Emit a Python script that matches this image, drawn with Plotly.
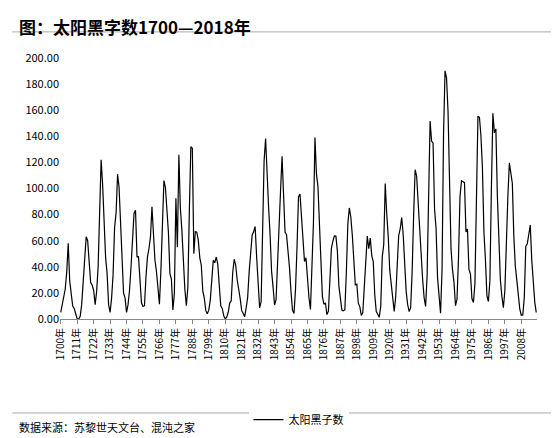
import plotly.graph_objects as go

years = list(range(1700, 2019))
sunspots = [
    5, 11, 16, 23, 36, 58, 29, 20, 10, 8,
    3, 0, 0, 2, 11, 27, 47, 63, 60, 39,
    28, 26, 22, 11, 21, 40, 78, 122, 103, 73,
    47, 35, 11, 5, 16, 34, 70, 81, 111, 101,
    73, 40, 20, 16, 5, 11, 22, 40, 60, 80.9,
    83.4, 47.7, 47.8, 30.7, 12.2, 9.6, 10.2, 32.4, 47.6, 54.0,
    62.9, 85.9, 61.2, 45.1, 36.4, 20.9, 11.4, 37.8, 69.8, 106.1,
    100.8, 81.6, 66.5, 34.8, 30.6, 7.0, 19.8, 92.5, 55.0, 125.9,
    84.8, 68.1, 38.5, 22.8, 10.2, 24.1, 82.9, 132.0, 130.9, 50.0,
    67.0, 66.6, 60.0, 46.9, 41.0, 21.3, 16.0, 6.4, 4.1, 6.8,
    14.5, 34.0, 45.0, 43.1, 47.5, 42.2, 28.1, 10.1, 8.1, 2.5,
    0.0, 1.4, 5.0, 12.2, 13.9, 35.4, 45.8, 41.1, 30.1, 23.9,
    15.6, 6.6, 4.0, 1.8, 8.5, 16.6, 36.3, 49.6, 64.2, 67.0,
    70.9, 47.8, 27.5, 8.5, 13.2, 56.9, 121.5, 138.3, 103.2, 85.7,
    64.6, 36.7, 24.2, 10.7, 15.0, 40.1, 61.5, 98.5, 124.7, 96.3,
    66.6, 64.5, 54.1, 39.0, 20.6, 6.7, 4.3, 22.7, 54.8, 93.8,
    95.8, 77.2, 59.1, 44.0, 47.0, 30.5, 16.3, 7.3, 37.6, 74.0,
    139.0, 111.2, 101.6, 66.2, 44.7, 17.0, 11.3, 12.4, 3.4, 6.0,
    32.3, 54.3, 59.7, 63.7, 63.5, 52.2, 25.4, 13.1, 6.8, 6.3,
    7.1, 35.6, 73.0, 85.1, 78.0, 64.0, 41.8, 26.2, 26.7, 12.1,
    9.5, 2.7, 5.0, 24.4, 42.0, 63.5, 53.8, 62.0, 48.5, 43.9,
    18.6, 5.7, 3.6, 1.4, 9.6, 47.4, 57.1, 103.9, 80.6, 63.6,
    37.6, 26.1, 14.2, 5.8, 16.7, 44.3, 63.9, 69.0, 77.8, 64.9,
    35.7, 21.2, 11.1, 5.7, 8.7, 36.1, 79.7, 114.4, 109.6, 88.8,
    67.8, 47.5, 30.6, 16.3, 9.6, 33.2, 92.6, 151.6, 136.3, 134.7,
    83.9, 69.4, 31.5, 13.9, 4.4, 38.0, 141.7, 190.2, 184.8, 159.0,
    112.3, 53.9, 37.6, 27.9, 10.2, 15.1, 47.0, 93.8, 105.9, 105.5,
    104.5, 66.6, 68.9, 38.0, 34.5, 15.5, 12.6, 27.5, 92.5, 155.4,
    154.6, 140.4, 115.9, 66.6, 45.9, 17.9, 13.4, 29.4, 100.2, 157.6,
    142.6, 145.7, 94.3, 54.6, 29.9, 17.5, 8.6, 21.5, 64.3, 93.3,
    119.6, 111.0, 104.0, 63.7, 40.4, 29.8, 15.2, 7.5, 2.9, 3.1,
    16.5, 55.7, 57.6, 64.7, 72.0, 45.0, 24.0, 13.0, 5.0,
]
tick_years = list(range(1700, 2019, 11))

FONT = "Noto Sans CJK SC"

fig = go.Figure(go.Scatter(
    x=years, y=sunspots, mode="lines", name="太阳黑子数",
    line=dict(color="black", width=1.2),
))

fig.update_layout(
    width=559, height=438,
    margin=dict(l=52, r=30, t=50, b=110),
    paper_bgcolor="white", plot_bgcolor="white",
    font=dict(family=FONT, size=11, color="black"),
    showlegend=True,
    legend=dict(orientation="h", x=0.5, xanchor="center", y=-0.33, yanchor="top",
                font=dict(size=11)),
)
fig.update_xaxes(
    range=[1699.5, 2018.5], tickvals=tick_years,
    ticktext=[f"{y}年" for y in tick_years], tickangle=-90,
    showline=True, linecolor="#888", showgrid=False, ticks="outside",
    ticklen=4, tickcolor="#888", tickfont=dict(size=10),
)
fig.update_yaxes(
    range=[0, 200], dtick=20, tickformat=".2f", showgrid=False,
    showline=False, zeroline=False, tickfont=dict(size=11),
)

fig.add_annotation(text="<b>图：太阳黑字数1700—2018年</b>", xref="paper", yref="paper",
                   x=-0.09, y=1.0, yshift=32, xanchor="left", yanchor="middle",
                   showarrow=False, font=dict(size=17, family=FONT))
fig.add_shape(type="line", xref="paper", yref="paper", x0=-0.1, x1=1.06,
              y0=1.1, y1=1.1, line=dict(color="#aaa", width=1))
fig.add_shape(type="line", xref="paper", yref="paper", x0=-0.1, x1=1.06,
              y0=-0.36, y1=-0.36, line=dict(color="#aaa", width=1))
fig.add_annotation(text="数据来源：苏黎世天文台、混沌之家", xref="paper", yref="paper",
                   x=-0.09, y=-0.36, yshift=-14, xanchor="left", yanchor="middle",
                   showarrow=False, font=dict(size=11, family=FONT))

fig.write_html("out.html")
